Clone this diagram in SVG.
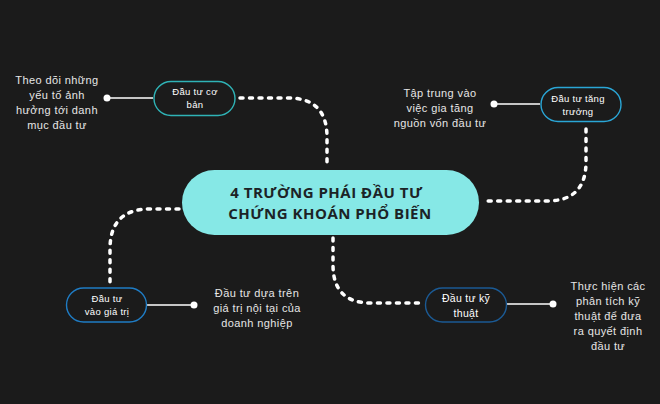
<svg xmlns="http://www.w3.org/2000/svg" width="660" height="404" viewBox="0 0 660 404">
<style>
.bg{fill:#1b1b1b}
.dot{fill:none;stroke:#ffffff;stroke-width:3.5;stroke-linecap:round;stroke-dasharray:3 6.5}
.sol{stroke:#ffffff;stroke-width:1.6}
.pt{fill:#ffffff}
.node{fill:#1b1b1b;stroke-width:1.4}
.nt{font-family:"Liberation Sans",Arial,sans-serif;font-size:9.5px;fill:#ffffff;text-anchor:middle;letter-spacing:0.3px}
.nt2{font-family:"Liberation Sans",Arial,sans-serif;font-size:10.5px;fill:#ffffff;text-anchor:middle;letter-spacing:0.3px}
.desc{font-family:"Liberation Sans",Arial,sans-serif;font-size:11px;fill:#e6e6e6;text-anchor:middle;letter-spacing:0.4px}
.title{font-family:"Open Sans","Noto Sans",sans-serif;font-weight:bold;font-size:15px;fill:#1c2326;text-anchor:middle;letter-spacing:0.5px}
</style>
<rect class="bg" x="0" y="0" width="660" height="404"/>
<g id="connectors">
<path class="dot" d="M240,98 H288 Q327,98 327,137 V166"/>
<path class="dot" d="M586,129 V162 Q586,201 547,201 H482"/>
<path class="dot" d="M179,209 H150 Q110,209 110,249 V283"/>
<path class="dot" d="M333,238 V265 Q333,303 371,303 H420"/>
<line class="sol" x1="153" y1="98" x2="107" y2="98"/>
<circle class="pt" cx="107" cy="98" r="3.5"/>
<line class="sol" x1="540" y1="104" x2="494" y2="104"/>
<circle class="pt" cx="494" cy="104" r="3.5"/>
<line class="sol" x1="147" y1="305" x2="194" y2="305"/>
<circle class="pt" cx="194" cy="305" r="3.5"/>
<line class="sol" x1="507" y1="304" x2="553" y2="304"/>
<circle class="pt" cx="553" cy="304" r="3.5"/>
</g>
<g id="center">
<rect x="182" y="170" width="297" height="65" rx="32.5" fill="#86e8e6"/>
<text class="title" x="326.5" y="198">4 TRƯỜNG PHÁI ĐẦU TƯ</text>
<text class="title" x="330" y="219">CHỨNG KHOÁN PHỔ BIẾN</text>
</g>
<g id="node-co-ban">
<rect class="node" x="154" y="81.5" width="81" height="34" rx="17" stroke="#2fb3b6"/>
<text class="nt" x="195" y="95">Đầu tư cơ</text>
<text class="nt" x="195" y="108">bản</text>
</g>
<g id="node-tang-truong">
<rect class="node" x="541" y="87.5" width="80" height="34" rx="17" stroke="#2aa6d6"/>
<text class="nt" x="578" y="102">Đầu tư tăng</text>
<text class="nt" x="578" y="115">trưởng</text>
</g>
<g id="node-gia-tri">
<rect class="node" x="66.5" y="288" width="80" height="34" rx="17" stroke="#1f7cc4"/>
<text class="nt" x="107" y="302">Đầu tư</text>
<text class="nt" x="107" y="315">vào giá trị</text>
</g>
<g id="node-ky-thuat">
<rect class="node" x="425.5" y="288" width="81" height="34" rx="17" stroke="#1b5a94"/>
<text class="nt2" x="466" y="302">Đầu tư kỹ</text>
<text class="nt2" x="466" y="317">thuật</text>
</g>
<g id="desc-co-ban">
<text class="desc" x="57" y="84">Theo dõi những</text>
<text class="desc" x="57" y="99">yếu tố ảnh</text>
<text class="desc" x="57" y="114">hưởng tới danh</text>
<text class="desc" x="57" y="129">mục đầu tư</text>
</g>
<g id="desc-tang-truong">
<text class="desc" x="440" y="97">Tập trung vào</text>
<text class="desc" x="440" y="112">việc gia tăng</text>
<text class="desc" x="440" y="127">nguồn vốn đầu tư</text>
</g>
<g id="desc-gia-tri">
<text class="desc" x="257" y="297">Đầu tư dựa trên</text>
<text class="desc" x="257" y="312">giá trị nội tại của</text>
<text class="desc" x="257" y="327">doanh nghiệp</text>
</g>
<g id="desc-ky-thuat">
<text class="desc" x="608" y="290">Thực hiện các</text>
<text class="desc" x="608" y="305">phân tích kỹ</text>
<text class="desc" x="608" y="320">thuật để đưa</text>
<text class="desc" x="608" y="335">ra quyết định</text>
<text class="desc" x="608" y="350">đầu tư</text>
</g>
</svg>
